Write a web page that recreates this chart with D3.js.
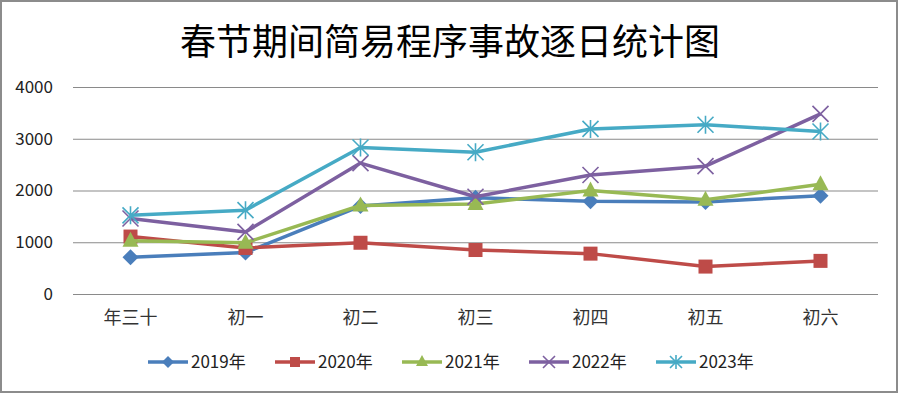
<!DOCTYPE html>
<html>
<head>
<meta charset="utf-8">
<script src="https://cdn.jsdelivr.net/npm/d3@7"></script>
<style>
  body { margin: 0; background: #fff; }
  text { font-family: "Noto Sans CJK SC", "Noto Sans", sans-serif; }
</style>
</head>
<body>
<div id="chart"></div>
<script>
var width = 900
var height = 395

var days = ["年三十", "初一", "初二", "初三", "初四", "初五", "初六"]
var years = ["2019年", "2020年", "2021年", "2022年", "2023年"]
var v2019 = [710, 800, 1700, 1860, 1790, 1780, 1900]
var v2020 = [1110, 890, 990, 850, 780, 530, 640]
var v2021 = [1030, 990, 1710, 1740, 2000, 1820, 2120]
var v2022 = [1460, 1200, 2530, 1880, 2300, 2470, 3480]
var v2023 = [1520, 1620, 2830, 2740, 3190, 3270, 3140]
var yTicks = [0, 1000, 2000, 3000, 4000]

var colors = ["#4a7ebb", "#be4b48", "#98b954", "#7d60a0", "#46aac5"]
var shapes = ["diamond", "square", "triangle", "cross", "star"]
var series = [v2019, v2020, v2021, v2022, v2023].map((v, i) => ({ name: years[i], values: v, color: colors[i], shape: shapes[i] }))

var margin = { top: 87, right: 22, bottom: 101, left: 73 }
var plotW = width - margin.left - margin.right
var plotH = height - margin.top - margin.bottom

var svg = d3.select("#chart")
    .append("svg")
    .attr("width", width)
    .attr("height", height)

// outer frame
svg.append("rect")
    .attr("x", 1).attr("y", 1)
    .attr("width", width - 4).attr("height", height - 4)
    .attr("fill", "#fff")
    .attr("stroke", "#8c8c8c")
    .attr("stroke-width", 2)

svg.append("text")
    .attr("x", width / 2)
    .attr("y", 55)
    .attr("text-anchor", "middle")
    .style("font-size", "36px")
    .attr("fill", "#000")
    .text("春节期间简易程序事故逐日统计图")

var g = svg.append("g")
    .attr("transform", `translate(${margin.left}, ${margin.top})`)

var x = d3.scaleBand()
    .domain(days)
    .range([0, plotW])

var y = d3.scaleLinear()
    .domain([0, 4000])
    .range([plotH, 0])

// grid lines
g.append("g")
    .call(d3.axisLeft(y).tickValues(yTicks).tickSize(-plotW).tickFormat(""))
    .call(a => a.select(".domain").remove())
    .call(a => a.selectAll("line").attr("stroke", "#8a8a8a").attr("stroke-width", 1.2))

// y labels
g.append("g")
    .call(d3.axisLeft(y).tickValues(yTicks).tickSize(0).tickPadding(20).tickFormat(d3.format("d")))
    .call(a => a.select(".domain").remove())
    .call(a => a.selectAll("text").style("font-size", "17px").attr("fill", "#222"))

// x labels
g.append("g")
    .attr("transform", `translate(0,${plotH})`)
    .call(d3.axisBottom(x).tickSize(0).tickPadding(17))
    .call(a => a.select(".domain").remove())
    .call(a => a.selectAll("text").style("font-size", "18px").attr("fill", "#333"))

function drawMarker(sel, shape, color, s) {
    if (shape == "diamond") {
        sel.append("path").attr("d", `M0,${-s}L${s},0L0,${s}L${-s},0Z`).attr("fill", color)
    } else if (shape == "square") {
        sel.append("rect").attr("x", -s + 1).attr("y", -s + 1).attr("width", 2 * s - 2).attr("height", 2 * s - 2)
            .attr("fill", color)
    } else if (shape == "triangle") {
        sel.append("path").attr("d", `M0,${-s - 1}L${s},${s - 2}L${-s},${s - 2}Z`).attr("fill", color)
    } else if (shape == "cross") {
        sel.append("path").attr("d", `M${-s},${-s}L${s},${s}M${s},${-s}L${-s},${s}`)
            .attr("stroke", color).attr("stroke-width", 1.6).attr("fill", "none")
    } else {
        sel.append("path").attr("d", `M${-s},${-s}L${s},${s}M${s},${-s}L${-s},${s}M0,${-s - 1}L0,${s + 1}`)
            .attr("stroke", color).attr("stroke-width", 1.6).attr("fill", "none")
    }
}

var line = d3.line()
    .x((d, i) => x(days[i]) + x.bandwidth() / 2)
    .y(d => y(d))

series.forEach(s => {
    g.append("path")
        .datum(s.values)
        .attr("d", line)
        .attr("fill", "none")
        .attr("stroke", s.color)
        .attr("stroke-width", 3.5)
        .attr("stroke-linejoin", "round")

    s.values.forEach((v, i) => {
        var m = g.append("g")
            .attr("transform", `translate(${x(days[i]) + x.bandwidth() / 2},${y(v)})`)
        drawMarker(m, s.shape, s.color, 8)
    })
})

// legend
var legend = svg.append("g")
    .attr("transform", "translate(148, 362)")

series.forEach((s, i) => {
    var lg = legend.append("g").attr("transform", `translate(${i * 127}, 0)`)
    lg.append("line")
        .attr("x1", 0).attr("x2", 40)
        .attr("stroke", s.color).attr("stroke-width", 3.5)
    var m = lg.append("g").attr("transform", "translate(20,0)")
    drawMarker(m, s.shape, s.color, 6)
    lg.append("text")
        .attr("x", 43).attr("y", 6)
        .style("font-size", "17px")
        .attr("fill", "#222")
        .text(s.name)
})
</script>
</body>
</html>
